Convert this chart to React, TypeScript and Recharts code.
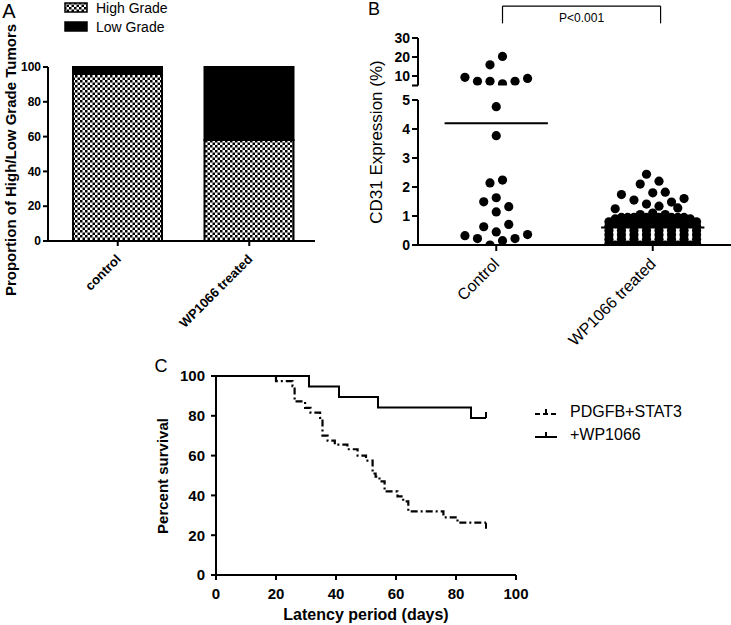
import React from 'react';
import {
  BarChart,
  Bar,
  XAxis,
  YAxis,
  Legend,
  ScatterChart,
  Scatter,
  ReferenceLine,
  LineChart,
  Line,
} from 'recharts';

const FONT = 'Arial, "Liberation Sans", Helvetica, sans-serif';

// ---- A: tumour grade proportions
const gradeCategories = ['control', 'WP1066 treated'];
const highGradePct = [96, 58];
const lowGradePct = [4, 42];
const gradeTicks = [0, 20, 40, 60, 80, 100];

// ---- B: CD31 expression, [slot in the dot swarm, value %]
const cd31Groups = ['Control', 'WP1066 treated'];
const controlCd31: [number, number][] = [
  [-5, 9.3], [-3, 7.2], [-1, 7.2], [1, 5.9], [3, 7.2], [5, 8.7], [-1, 15.9], [1, 20.3],
  [0, 4.77], [0, 3.77], [-1, 2.14], [1, 2.24], [-2, 1.49], [0, 1.63], [2, 1.32], [0, 1.14],
  [-2, 0.63], [2, 0.71], [0, 0.45], [-5, 0.32], [-3, 0.22], [1, 0.15], [3, 0.22], [5, 0.36],
  [-1, 0],
];
const wp1066Cd31: [number, number][] = [
  [-1, 2.44], [-2, 2.1], [1, 2.2], [-5, 1.74], [-3, 1.55], [0, 1.8], [2, 1.82], [5, 1.6],
  [-1, 1.41], [1, 1.34], [3, 1.48], [4, 1.28], [-6, 1.25],
  [-7, 0.05], [-7, 0.2], [-7, 0.35], [-7, 0.5], [-7, 0.65], [-7, 0.8],
  [-6, 0], [-6, 0.75], [-6, 0.9],
  [-5, 0.05], [-5, 0.2], [-5, 0.35], [-5, 0.5], [-5, 0.65], [-5, 0.8], [-5, 0.95],
  [-4, 0], [-4, 0.75], [-4, 0.95],
  [-3, 0.05], [-3, 0.2], [-3, 0.35], [-3, 0.5], [-3, 0.65], [-3, 0.8], [-3, 0.95],
  [-2, 0], [-2, 0.75], [-2, 0.95], [-2, 1.05],
  [-1, 0.05], [-1, 0.2], [-1, 0.35], [-1, 0.5], [-1, 0.65], [-1, 0.8], [-1, 0.95],
  [0, 0], [0, 0.75], [0, 0.95], [0, 1.1],
  [1, 0.05], [1, 0.2], [1, 0.35], [1, 0.5], [1, 0.65], [1, 0.8], [1, 0.95],
  [2, 0], [2, 0.75], [2, 0.95], [2, 1.05],
  [3, 0.05], [3, 0.2], [3, 0.35], [3, 0.5], [3, 0.65], [3, 0.8], [3, 0.95],
  [4, 0], [4, 0.75], [4, 0.95],
  [5, 0.05], [5, 0.2], [5, 0.35], [5, 0.5], [5, 0.65], [5, 0.8], [5, 0.95],
  [6, 0], [6, 0.75], [6, 0.9],
  [7, 0.05], [7, 0.2], [7, 0.35], [7, 0.5], [7, 0.65], [7, 0.8],
];
const cd31Means = [4.2, 0.6];
const cd31LowTicks = [0, 1, 2, 3, 4, 5];
const cd31HighTicks = [5, 10, 20, 30];
const pValueText = 'P<0.001';

// ---- C: Kaplan-Meier
const stat3Days = [0, 20, 25.5, 26.2, 29.7, 31.5, 34.7, 35.5, 37.2, 39.6, 43.8, 47.2, 50, 52.2, 53.2, 54.5, 56.2, 60.5, 62.4, 64.1, 75.8, 80.5, 90];
const stat3Survival = [100, 97.4, 94.9, 87.2, 84, 81.6, 79, 70, 67.5, 65.5, 63.2, 60, 57.5, 51, 49.4, 47, 42, 39.5, 37, 32, 29, 26.3, 26.3];
const wpDays = [0, 31, 41, 54, 85, 90];
const wpSurvival = [100, 94.7, 89.5, 84.2, 78.9, 78.9];
const survivalTicks = [0, 20, 40, 60, 80, 100];
const survivalNames = ['PDGFB+STAT3', '+WP1066'];

// layout helpers
const SLOT = 0.04; // one swarm slot in group-axis units
const MEAN_HALF = 0.33;
const STAT3_DASH = '7 3 2 3';

const gradeData = gradeCategories.map((name, i) => ({ name, high: highGradePct[i], low: lowGradePct[i] }));
const toPoints = (g: number, pts: [number, number][]) => pts.map(([s, v]) => ({ x: g + 0.5 + s * SLOT, y: v }));
const allCd31 = [...toPoints(0, controlCd31), ...toPoints(1, wp1066Cd31)];
const lowCd31 = allCd31.filter((p) => p.y <= 5);
const highCd31 = allCd31.filter((p) => p.y > 5);
const stat3Data = stat3Days.map((day, i) => ({ day, s: stat3Survival[i] }));
const wpData = wpDays.map((day, i) => ({ day, s: wpSurvival[i] }));

const axisStyle = { stroke: '#000', strokeWidth: 2 };
const boldTick = (size: number) => ({ fill: '#000', fontSize: size, fontWeight: 'bold', fontFamily: FONT });

const rotTick = (fontSize: number, fontWeight: string, format: (v: any) => string) => (props: any) => {
  const ax = props.x + 4;
  const ay = props.y + 14;
  return (
    <text
      x={ax}
      y={ay}
      transform={`rotate(-45 ${ax} ${ay})`}
      textAnchor="end"
      fontFamily={FONT}
      fontSize={fontSize}
      fontWeight={fontWeight}
      fill="#000"
    >
      {format(props.payload.value)}
    </text>
  );
};

const Dot = (p: any) => <circle cx={p.cx} cy={p.cy} r={4.6} fill="#000" />;

const censorDot = (dir: number, last: number) => (p: any) =>
  p.index === last ? (
    <line key={p.index} x1={p.cx} x2={p.cx} y1={p.cy} y2={p.cy + dir * 6} stroke="#000" strokeWidth={2} />
  ) : (
    <g key={p.index} />
  );

function Title({ x, y, size, bold, rotate, children }: any) {
  return (
    <div
      style={{
        position: 'absolute',
        left: x,
        top: y,
        transform: `translate(-50%, -50%)${rotate ? ' rotate(-90deg)' : ''}`,
        whiteSpace: 'nowrap',
        fontFamily: FONT,
        fontSize: size,
        fontWeight: bold ? 'bold' : 'normal',
        lineHeight: 1,
        color: '#000',
      }}
    >
      {children}
    </div>
  );
}

const GradeLegend = () => (
  <div style={{ fontFamily: FONT, fontSize: 14, color: '#000' }}>
    {['High Grade', 'Low Grade'].map((name, i) => (
      <div key={name} style={{ display: 'flex', alignItems: 'center', height: 19 }}>
        <svg width={24} height={11}>
          <rect x={1} y={1} width={22} height={9} fill={i === 0 ? 'url(#checker)' : '#000'} stroke="#000" strokeWidth={1.5} />
        </svg>
        <span style={{ marginLeft: 8 }}>{name}</span>
      </div>
    ))}
  </div>
);

const SurvivalLegend = () => (
  <div style={{ fontFamily: FONT, fontSize: 16, color: '#000' }}>
    {survivalNames.map((name, i) => (
      <div key={name} style={{ display: 'flex', alignItems: 'center', height: 23 }}>
        <svg width={24} height={12}>
          <line x1={1} x2={23} y1={8} y2={8} stroke="#000" strokeWidth={2} strokeDasharray={i === 0 ? '5 3' : undefined} />
          <line x1={12} x2={12} y1={8} y2={3} stroke="#000" strokeWidth={2} />
        </svg>
        <span style={{ marginLeft: 12 }}>{name}</span>
      </div>
    ))}
  </div>
);

export default function App() {
  return (
    <div style={{ position: 'absolute', left: 0, top: 0, width: 731, height: 625, background: '#fff', overflow: 'hidden' }}>
      {/* A */}
      <div style={{ position: 'absolute', left: 0, top: 0 }}>
        <BarChart width={320} height={330} data={gradeData} margin={{ top: 67, right: 5, bottom: 0, left: 0 }}>
          <defs>
            <pattern id="checker" width={5} height={5} patternUnits="userSpaceOnUse">
              <rect width={5} height={5} fill="#fff" />
              <rect width={2.5} height={2.5} fill="#000" />
              <rect x={2.5} y={2.5} width={2.5} height={2.5} fill="#000" />
            </pattern>
          </defs>
          <XAxis
            dataKey="name"
            height={89}
            padding={{ left: 4, right: 0 }}
            axisLine={axisStyle}
            tickLine={axisStyle}
            tickSize={5}
            tickMargin={0}
            interval={0}
            tick={rotTick(13, 'bold', (v) => String(v))}
          />
          <YAxis
            width={48}
            domain={[0, 100]}
            ticks={gradeTicks}
            interval={0}
            axisLine={axisStyle}
            tickLine={axisStyle}
            tickSize={5}
            tickMargin={2}
            tick={boldTick(12)}
          />
          <Legend
            layout="horizontal"
            verticalAlign="middle"
            align="center"
            content={GradeLegend}
            wrapperStyle={{ top: -2, left: 64, width: 150 }}
          />
          <Bar dataKey="high" stackId="g" barSize={89} fill="url(#checker)" stroke="#000" strokeWidth={2} isAnimationActive={false} />
          <Bar dataKey="low" stackId="g" barSize={89} fill="#000" stroke="#000" strokeWidth={2} isAnimationActive={false} />
        </BarChart>
      </div>

      {/* B lower segment */}
      <div style={{ position: 'absolute', left: 330, top: 0 }}>
        <ScatterChart width={401} height={350} margin={{ top: 100, right: 0, bottom: 0, left: 0 }}>
          <XAxis
            type="number"
            dataKey="x"
            domain={[0, 2]}
            allowDataOverflow
            ticks={[0.5, 1.5]}
            height={105}
            axisLine={axisStyle}
            tickLine={axisStyle}
            tickSize={6}
            tickMargin={0}
            interval={0}
            tick={rotTick(16, 'normal', (v) => cd31Groups[Math.round(v - 0.5)])}
          />
          <YAxis
            type="number"
            dataKey="y"
            domain={[0, 5]}
            allowDataOverflow
            ticks={cd31LowTicks}
            interval={0}
            width={88}
            axisLine={axisStyle}
            tickLine={axisStyle}
            tickSize={6}
            tickMargin={2}
            tick={boldTick(14)}
          />
          <Scatter data={lowCd31} shape={Dot} isAnimationActive={false} />
          {cd31Means.map((m, i) => (
            <ReferenceLine
              key={i}
              segment={[{ x: i + 0.5 - MEAN_HALF, y: m }, { x: i + 0.5 + MEAN_HALF, y: m }]}
              stroke="#000"
              strokeWidth={2}
              ifOverflow="visible"
            />
          ))}
        </ScatterChart>
      </div>

      {/* B upper segment */}
      <div style={{ position: 'absolute', left: 330, top: 0 }}>
        <ScatterChart width={401} height={100} margin={{ top: 38, right: 0, bottom: 14.5, left: 0 }}>
          <XAxis type="number" dataKey="x" domain={[0, 2]} allowDataOverflow hide />
          <YAxis
            type="number"
            dataKey="y"
            domain={[5, 30]}
            allowDataOverflow
            ticks={cd31HighTicks}
            interval={0}
            tickFormatter={(v) => (v === 5 ? '' : String(v))}
            width={88}
            axisLine={axisStyle}
            tickLine={axisStyle}
            tickSize={6}
            tickMargin={2}
            tick={boldTick(14)}
          />
          <Scatter data={highCd31} shape={Dot} isAnimationActive={false} />
          <ReferenceLine segment={[{ x: 0.54, y: 37.7 }, { x: 0.54, y: 46.8 }]} stroke="#000" strokeWidth={1.2} ifOverflow="visible" />
          <ReferenceLine segment={[{ x: 1.55, y: 37.7 }, { x: 1.55, y: 46.8 }]} stroke="#000" strokeWidth={1.2} ifOverflow="visible" />
          <ReferenceLine
            segment={[{ x: 0.54, y: 46.8 }, { x: 1.55, y: 46.8 }]}
            stroke="#000"
            strokeWidth={1.2}
            ifOverflow="visible"
            label={{ value: pValueText, position: 'bottom', offset: 7, fill: '#000', fontSize: 12, fontFamily: FONT }}
          />
        </ScatterChart>
      </div>

      {/* C */}
      <div style={{ position: 'absolute', left: 150, top: 350 }}>
        <LineChart width={581} height={275} margin={{ top: 26, right: 215, bottom: 0, left: 0 }}>
          <XAxis
            type="number"
            dataKey="day"
            domain={[0, 100]}
            ticks={survivalTicks}
            interval={0}
            height={50}
            axisLine={axisStyle}
            tickLine={axisStyle}
            tickSize={5}
            tickMargin={8}
            tick={boldTick(15)}
          />
          <YAxis
            type="number"
            domain={[0, 100]}
            ticks={survivalTicks}
            interval={0}
            width={66}
            axisLine={axisStyle}
            tickLine={axisStyle}
            tickSize={5}
            tickMargin={6}
            tick={boldTick(15)}
          />
          <Legend
            layout="horizontal"
            verticalAlign="middle"
            align="center"
            content={SurvivalLegend}
            wrapperStyle={{ top: 50, left: 384, width: 190 }}
          />
          <Line
            data={stat3Data}
            dataKey="s"
            type="stepAfter"
            stroke="#000"
            strokeWidth={2.2}
            strokeDasharray={STAT3_DASH}
            dot={censorDot(1, stat3Data.length - 1)}
            activeDot={false}
            isAnimationActive={false}
          />
          <Line
            data={wpData}
            dataKey="s"
            type="stepAfter"
            stroke="#000"
            strokeWidth={2}
            dot={censorDot(-1, wpData.length - 1)}
            activeDot={false}
            isAnimationActive={false}
          />
        </LineChart>
      </div>

      {/* panel letters and axis titles */}
      <Title x={9} y={11} size={20}>A</Title>
      <Title x={374} y={9} size={18}>B</Title>
      <Title x={161} y={366} size={18}>C</Title>
      <Title x={10} y={160} size={15} bold rotate>Proportion of High/Low Grade Tumors</Title>
      <Title x={376} y={141.5} size={17} rotate>CD31 Expression (%)</Title>
      <Title x={162} y={475.5} size={15} bold rotate>Percent survival</Title>
      <Title x={366} y={615} size={16} bold>Latency period (days)</Title>
    </div>
  );
}
